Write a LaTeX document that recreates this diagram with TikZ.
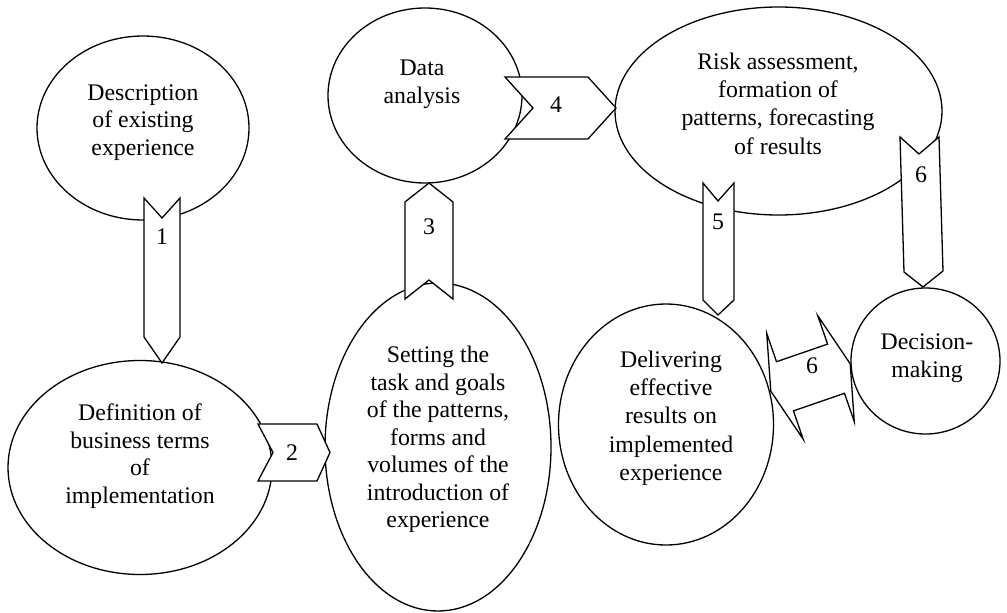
\documentclass[tikz,border=0pt]{standalone}
\usepackage{fontspec}
\setmainfont{Liberation Serif}
\usetikzlibrary{shapes.geometric}
\begin{document}
\begin{tikzpicture}[x=1pt,y=-1pt,
  bub/.style={ellipse,draw,fill=white,line width=1.3pt,inner sep=0pt,outer sep=0pt},
  blk/.style={draw,fill=white,line width=1.3pt,line join=miter},
  txt/.style={align=center,inner sep=0pt,font=\fontsize{23.8}{27.5}\selectfont},
  txtb/.style={align=center,inner sep=0pt,font=\fontsize{23.8}{28.3}\selectfont},
  num/.style={inner sep=0pt,font=\fontsize{23.8}{27.5}\selectfont}]
\useasboundingbox (0,0) rectangle (1007,613);
% ellipses
\node[bub,minimum width=212pt,minimum height=184pt] (desc) at (143,128) {};
\node[bub,minimum width=264pt,minimum height=214pt] (defn) at (140,467.5) {};
\node[bub,minimum width=226pt,minimum height=328pt] (sett) at (438,447) {};
\node[bub,minimum width=194pt,minimum height=175pt] (data) at (425,95.5) {};
\node[bub,minimum width=327pt,minimum height=208pt] (risk) at (778.5,111) {};
\node[bub,minimum width=215pt,minimum height=241pt] (deliv) at (666,424.5) {};
\node[bub,minimum width=149pt,minimum height=146pt] (decis) at (925.5,361) {};
% block arrows
\draw[blk] (144,198) -- (162,218) -- (180,198) -- (180,337) -- (162,363) -- (144,337) -- cycle;
\draw[blk] (258,424) -- (317,424) -- (330,452.5) -- (317,481) -- (258,481) -- (273,452.5) -- cycle;
\draw[blk] (429,183) -- (453,202) -- (453,299) -- (429,280) -- (405,299) -- (405,202) -- cycle;
\draw[blk] (505,77) -- (588,77) -- (616,108) -- (588,139) -- (505,139) -- (533,108) -- cycle;
\draw[blk] (703,183) -- (718,201) -- (734,183) -- (734,300) -- (718,315) -- (703,300) -- cycle;
\draw[blk] (900,137) -- (919,154) -- (939,137) -- (943,271) -- (923,287) -- (904,272) -- cycle;
\begin{scope}[shift={(810.5,377.5)},rotate=19]
\draw[blk] (-42,0) -- (-27,-56) -- (-27,-26) -- (27,-26) -- (27,-56) -- (42,0)
  -- (27,56) -- (27,26) -- (-27,26) -- (-27,56) -- cycle;
\end{scope}
% texts
\node[txt] (tdesc) at (143,122.5) {Description\\of existing\\experience};
\node[txt] (tdefn) at (140,456) {Definition of\\business terms\\of\\implementation};
\node[txt] (tsett) at (438,439.5) {Setting the\\task and goals\\of the patterns,\\forms and\\volumes of the\\introduction of\\experience};
\node[txt] (tdata) at (422,84.5) {Data\\analysis};
\node[txtb] (trisk) at (778,103.5) {Risk assessment,\\formation of\\patterns, forecasting\\of results};
\node[txtb] (tdeliv) at (671,418) {Delivering\\effective\\results on\\implemented\\experience};
\node[txtb] (tdecis) at (927,358) {Decision-\\making};
% numbers
\node[num] (n1) at (162,237) {1};
\node[num] (n2) at (292,453) {2};
\node[num] (n3) at (429,227) {3};
\node[num] (n4) at (556,105) {4};
\node[num] (n5) at (718,222) {5};
\node[num] (n6a) at (921,175) {6};
\node[num] (n6b) at (812,366) {6};
\end{tikzpicture}
\end{document}
